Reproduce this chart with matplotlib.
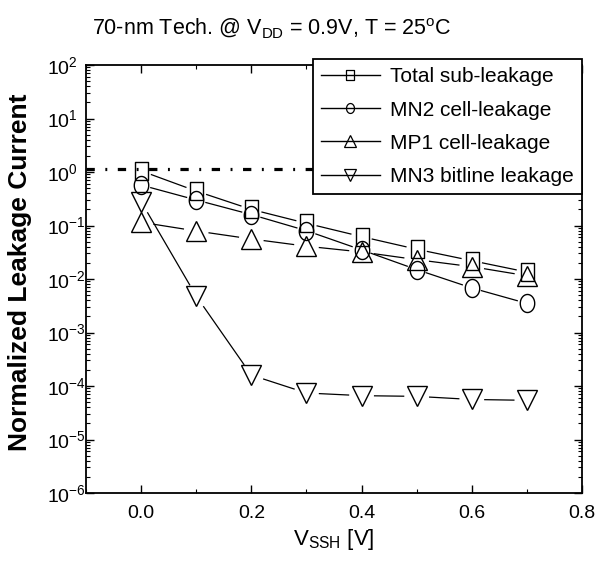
import numpy as np
import matplotlib
matplotlib.use('Agg')
import matplotlib.pyplot as plt
from matplotlib.lines import Line2D
from matplotlib.ticker import LogLocator, MultipleLocator, NullFormatter

plt.rcParams['font.family'] = ['Liberation Sans', 'DejaVu Sans']
plt.rcParams['mathtext.fontset'] = 'custom'
plt.rcParams['mathtext.rm'] = 'Liberation Sans'
plt.rcParams['mathtext.it'] = 'Liberation Sans:italic'
plt.rcParams['mathtext.bf'] = 'Liberation Sans:bold'
plt.rcParams['axes.unicode_minus'] = False

# данные
v_ssh = [0.0, 0.1, 0.2, 0.3, 0.4, 0.5, 0.6, 0.7]
total_leak = [1.05, 0.44, 0.20, 0.11, 0.062, 0.036, 0.022, 0.0135]
mn2_leak = [0.57, 0.30, 0.16, 0.080, 0.035, 0.015, 0.0068, 0.0035]
mp1_leak = [0.115, 0.079, 0.056, 0.041, 0.032, 0.023, 0.017, 0.0115]
mn3_leak = [0.28, 0.0048, 1.6e-4, 7.4e-5, 6.6e-5, 6.4e-5, 5.6e-5, 5.4e-5]
ref_level = 1.12

labels = ['Total sub-leakage', 'MN2 cell-leakage', 'MP1 cell-leakage', 'MN3 bitline leakage']

# маркеры: прямоугольник и эллипс чуть вытянуты по вертикали
rect = [(-0.72, -1), (0.72, -1), (0.72, 1), (-0.72, 1), (-0.72, -1)]
t = np.linspace(0, 2 * np.pi, 40)
ellipse = list(zip(0.8 * np.cos(t), np.sin(t)))

series = [
    (total_leak, rect, 13, 11),
    (mn2_leak, ellipse, 13, 10),
    (mp1_leak, '^', 15, 13),
    (mn3_leak, 'v', 15, 13),
]

fig = plt.figure(figsize=(6.01, 5.62), dpi=100)
ax = fig.add_axes([86 / 601, 69 / 562, 496 / 601, 428 / 562])
ax.set_yscale('log')
ax.set_xlim(-0.1, 0.8)
ax.set_ylim(1e-6, 1e2)


def gapped_line(xs, ys, gap):
    # линия между точками с разрывом возле маркеров
    pts = ax.transData.transform(np.column_stack([xs, ys]))
    inv = ax.transData.inverted()
    for p, q in zip(pts[:-1], pts[1:]):
        d = q - p
        u = d / np.hypot(d[0], d[1])
        seg = inv.transform([p + u * gap, q - u * gap])
        ax.plot(seg[:, 0], seg[:, 1], color='black', lw=0.9, zorder=2)


ax.axhline(ref_level, color='black', lw=2.3, dashes=[2.6, 3.3, 0.6, 3.3], zorder=1)

handles = []
for ys, mk, ms, gap in series:
    gapped_line(v_ssh, ys, gap)
    ax.plot(v_ssh, ys, linestyle='none', marker=mk, markersize=ms,
            markerfacecolor='none', markeredgecolor='black', markeredgewidth=1.0, zorder=3)
    handles.append(Line2D([], [], color='black', lw=1.0, marker=mk, markersize=ms * 0.55,
                          markerfacecolor='none', markeredgecolor='black', markeredgewidth=0.9))

ax.xaxis.set_major_locator(MultipleLocator(0.2))
ax.xaxis.set_minor_locator(MultipleLocator(0.1))
ax.set_xticks([0.0, 0.2, 0.4, 0.6, 0.8])
ax.set_xticklabels(['0.0', '0.2', '0.4', '0.6', '0.8'])
ax.yaxis.set_major_locator(LogLocator(base=10, numticks=20))
ax.yaxis.set_minor_locator(LogLocator(base=10, subs=np.arange(2, 10), numticks=20))
ax.yaxis.set_minor_formatter(NullFormatter())

ax.tick_params(which='both', direction='in', top=True, right=True, colors='black')
ax.tick_params(axis='x', which='major', length=6, width=1, labelsize=14, pad=9)
ax.tick_params(axis='y', which='major', length=6, width=1, labelsize=14, pad=28)
ax.tick_params(which='minor', length=3, width=0.8)
for lab in ax.get_yticklabels():
    lab.set_horizontalalignment('left')
for sp in ax.spines.values():
    sp.set_linewidth(1.3)

ax.set_ylabel('Normalized Leakage Current', fontsize=19, fontweight='bold')
ax.yaxis.set_label_coords(-0.108, 0.516)
ax.set_xlabel(r'$\mathregular{V_{SSH}}$ [V]', fontsize=16, labelpad=3)

fig.text(272 / 601, 1 - 28 / 562,
         r'70-nm Tech. @ V$_{\mathregular{DD}}$ = 0.9V, T = 25$^{\mathregular{o}}$C',
         ha='center', va='center', fontsize=15.5)

leg = ax.legend(handles, labels, loc='upper right', bbox_to_anchor=(1.0, 1.014),
                borderaxespad=0, fontsize=15, frameon=True, fancybox=False,
                handlelength=2.8, handletextpad=0.5, labelspacing=0.68,
                borderpad=0.4)
leg.get_frame().set_edgecolor('black')
leg.get_frame().set_linewidth(1.3)
leg.get_frame().set_alpha(1)
leg.set_zorder(5)

fig.savefig('out.png', dpi=100)
